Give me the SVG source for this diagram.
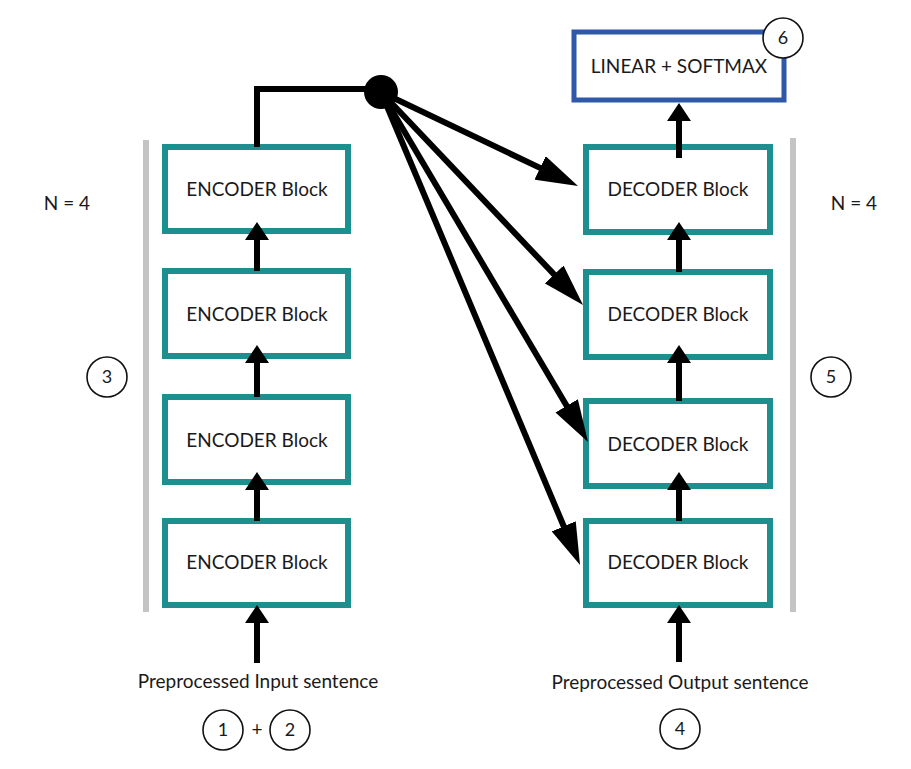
<svg xmlns="http://www.w3.org/2000/svg" width="911" height="769" viewBox="0 0 911 769">
<defs>
<style>
.blk{fill:#fff;stroke:#1e8f8f;stroke-width:6}
.lin{fill:#fff;stroke:#2f58a8;stroke-width:5}
.t{font-family:Lato,"Noto Sans",sans-serif;font-size:19px;fill:#1a1a1a;text-anchor:middle}
.n{font-family:Lato,"Noto Sans",sans-serif;font-size:18px;fill:#1a1a1a;text-anchor:middle}
.c{fill:#fff;stroke:#111;stroke-width:1.6}
.bar{stroke:#c4c4c4;stroke-width:6}
.sh{stroke:#000;stroke-width:6;fill:none}
.dg{stroke:#000;stroke-width:6;fill:none}
</style>
<marker id="ah" viewBox="0 0 18 24" refX="3" refY="12" markerWidth="18" markerHeight="24" markerUnits="userSpaceOnUse" orient="auto">
<path d="M0,0 L18,12 L0,24 z" fill="#000"/>
</marker>
<marker id="ahd" viewBox="0 0 42 26" refX="4" refY="13" markerWidth="42" markerHeight="26" markerUnits="userSpaceOnUse" orient="auto">
<path d="M0,0 L42,13 L0,26 z" fill="#000"/>
</marker>
</defs>
<rect width="911" height="769" fill="#fff"/>

<g id="bars">
<line class="bar" x1="146" y1="140" x2="146" y2="612"/>
<line class="bar" x1="793" y1="138" x2="793" y2="612"/>
</g>

<g id="enc1"><rect class="blk" x="165" y="147" width="183" height="84"/><text class="t" x="257" y="196">ENCODER Block</text></g>
<g id="enc2"><rect class="blk" x="165" y="271" width="183" height="85"/><text class="t" x="257" y="321">ENCODER Block</text></g>
<g id="enc3"><rect class="blk" x="165" y="397" width="183" height="85"/><text class="t" x="257" y="447">ENCODER Block</text></g>
<g id="enc4"><rect class="blk" x="165" y="521" width="183" height="84"/><text class="t" x="257" y="569">ENCODER Block</text></g>

<g id="dec1"><rect class="blk" x="586" y="147" width="184" height="85"/><text class="t" x="678" y="196">DECODER Block</text></g>
<g id="dec2"><rect class="blk" x="586" y="272" width="184" height="85"/><text class="t" x="678" y="321">DECODER Block</text></g>
<g id="dec3"><rect class="blk" x="586" y="401" width="184" height="85"/><text class="t" x="678" y="451">DECODER Block</text></g>
<g id="dec4"><rect class="blk" x="586" y="521" width="184" height="84"/><text class="t" x="678" y="569">DECODER Block</text></g>

<g id="linear"><rect class="lin" x="574" y="32" width="210" height="68"/><text class="t" x="679" y="73">LINEAR + SOFTMAX</text></g>

<g id="connectors">
<path class="sh" d="M257,147 V89 H381" stroke-width="7"/>
<circle cx="381" cy="92" r="17" fill="#000"/>
<line class="sh" x1="257" y1="271" x2="257" y2="237" marker-end="url(#ah)"/>
<line class="sh" x1="257" y1="397" x2="257" y2="360" marker-end="url(#ah)"/>
<line class="sh" x1="257" y1="521" x2="257" y2="487" marker-end="url(#ah)"/>
<line class="sh" x1="257" y1="663" x2="257" y2="620" marker-end="url(#ah)"/>
<line class="sh" x1="679" y1="158" x2="679" y2="118" marker-end="url(#ah)"/>
<line class="sh" x1="679" y1="272" x2="679" y2="237" marker-end="url(#ah)"/>
<line class="sh" x1="679" y1="401" x2="679" y2="360" marker-end="url(#ah)"/>
<line class="sh" x1="679" y1="521" x2="679" y2="487" marker-end="url(#ah)"/>
<line class="sh" x1="679" y1="662" x2="679" y2="620" marker-end="url(#ah)"/>
<line class="dg" x1="381" y1="92" x2="543.7" y2="169.6" marker-end="url(#ahd)"/>
<line class="dg" x1="381" y1="92" x2="556.9" y2="277.4" marker-end="url(#ahd)"/>
<line class="dg" x1="381" y1="92" x2="568.7" y2="409.3" marker-end="url(#ahd)"/>
<line class="dg" x1="381" y1="92" x2="565.3" y2="530" marker-end="url(#ahd)"/>
</g>

<g id="labels">
<text class="t" x="67" y="210">N = 4</text>
<text class="t" x="854" y="210">N = 4</text>
<text class="t" x="258" y="688">Preprocessed Input sentence</text>
<text class="t" x="680" y="689">Preprocessed Output sentence</text>
<text class="t" x="257" y="736">+</text>
</g>

<g id="c1"><circle class="c" cx="223" cy="730" r="20"/><text class="n" x="223" y="736">1</text></g>
<g id="c2"><circle class="c" cx="290" cy="730" r="20"/><text class="n" x="290" y="736">2</text></g>
<g id="c3"><circle class="c" cx="107" cy="377" r="20"/><text class="n" x="107" y="383">3</text></g>
<g id="c4"><circle class="c" cx="680" cy="729" r="20"/><text class="n" x="680" y="735">4</text></g>
<g id="c5"><circle class="c" cx="831" cy="377" r="20"/><text class="n" x="831" y="383">5</text></g>
<g id="c6"><circle class="c" cx="783" cy="38" r="20"/><text class="n" x="783" y="44">6</text></g>
</svg>
